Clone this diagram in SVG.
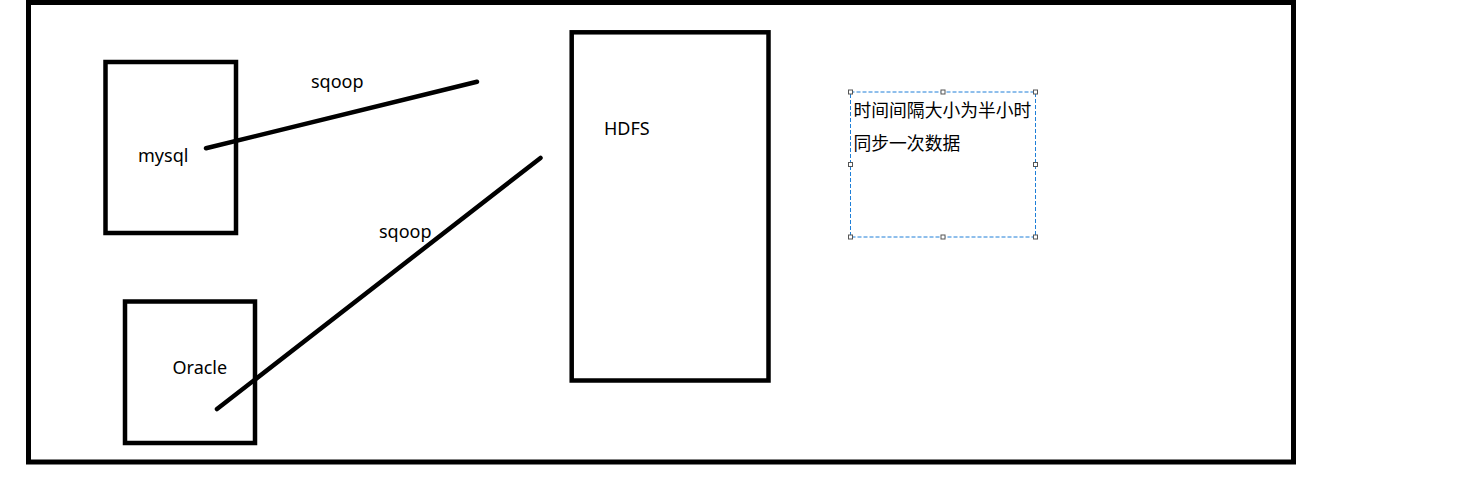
<svg xmlns="http://www.w3.org/2000/svg" width="1457" height="493" viewBox="0 0 1457 493">
<style>
.box{fill:none;stroke:#000;stroke-width:4.5}
.lbl{font-family:"Noto Sans","Open Sans","Liberation Sans",sans-serif;font-size:18px;fill:#000}
.cjk{font-family:"Noto Sans CJK SC","Noto Sans",sans-serif;font-size:17.8px;fill:#000}
.conn{stroke:#000;stroke-width:4.5;stroke-linecap:round;fill:none}
.sel{fill:none;stroke:#1e7fd8;stroke-width:1;stroke-dasharray:4 2}
.h{fill:#fff;stroke:#555;stroke-width:1}
</style>
<rect width="1457" height="493" fill="#fff"/>
<g id="frame"><rect class="box" x="28.5" y="2.5" width="1265" height="459.5" style="stroke-width:5"/></g>
<g id="mysql"><rect class="box" x="105.5" y="62" width="130.5" height="171"/><text class="lbl" x="138" y="162">mysql</text></g>
<g id="oracle"><rect class="box" x="125" y="301.5" width="130" height="141.5"/><text class="lbl" x="172.5" y="373.5">Oracle</text></g>
<g id="hdfs"><rect class="box" x="571.7" y="32.3" width="196.8" height="348.2"/><text class="lbl" x="604" y="135">HDFS</text></g>
<g id="connectors">
<line class="conn" x1="206" y1="148.3" x2="477" y2="81.8"/>
<line class="conn" x1="540.5" y1="158" x2="217" y2="409"/>
<text class="lbl" x="311" y="88">sqoop</text>
<text class="lbl" x="379" y="238">sqoop</text>
</g>
<g id="note">
<rect class="sel" x="850.5" y="92" width="185" height="145"/>
<rect class="h" x="848.5" y="90" width="4" height="4"/>
<rect class="h" x="941" y="90" width="4" height="4"/>
<rect class="h" x="1033.5" y="90" width="4" height="4"/>
<rect class="h" x="848.5" y="162.5" width="4" height="4"/>
<rect class="h" x="1033.5" y="162.5" width="4" height="4"/>
<rect class="h" x="848.5" y="235" width="4" height="4"/>
<rect class="h" x="941" y="235" width="4" height="4"/>
<rect class="h" x="1033.5" y="235" width="4" height="4"/>
<text class="cjk" x="853.5" y="117">时间间隔大小为半小时</text>
<text class="cjk" x="853.5" y="150">同步一次数据</text>
</g>
</svg>
